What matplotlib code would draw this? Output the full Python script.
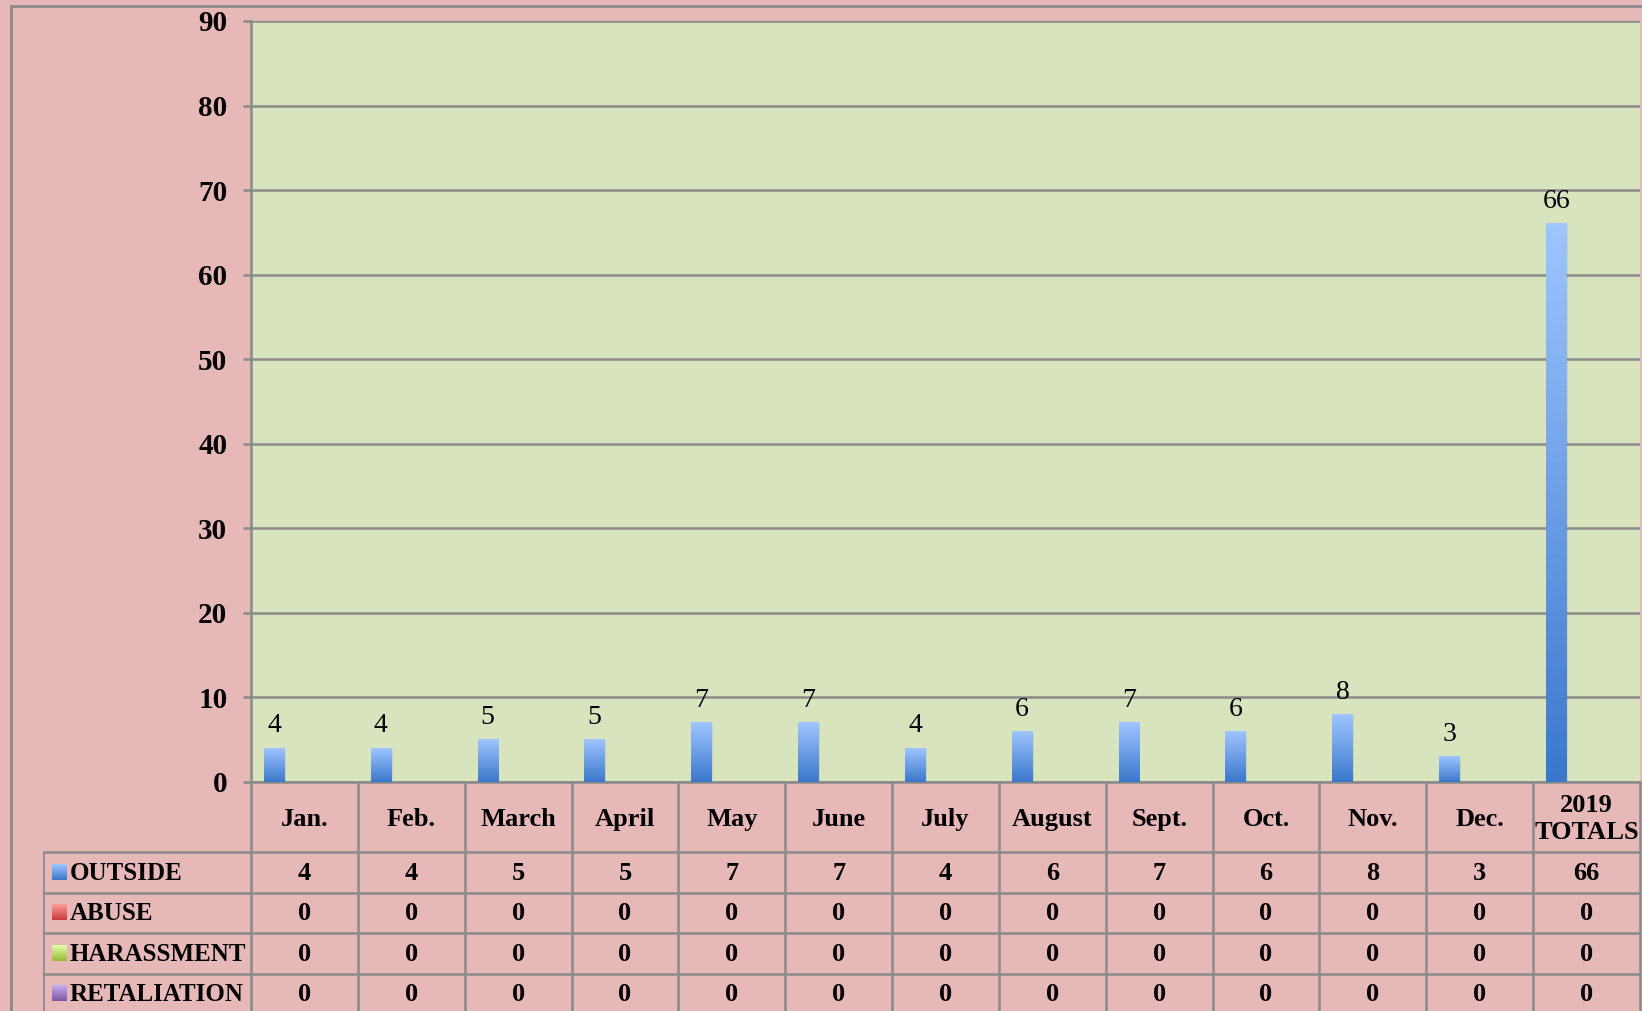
import matplotlib
matplotlib.use("Agg")
import matplotlib.pyplot as plt
import numpy as np
from matplotlib.colors import LinearSegmentedColormap
from matplotlib.patches import Rectangle

months = ['Jan.', 'Feb.', 'March', 'April', 'May', 'June', 'July',
          'August', 'Sept.', 'Oct.', 'Nov.', 'Dec.', '2019\nTOTALS']
series = ['OUTSIDE', 'ABUSE', 'HARASSMENT', 'RETALIATION']
outside = [4, 4, 5, 5, 7, 7, 4, 6, 7, 6, 8, 3, 66]
abuse = [0] * 13
harassment = [0] * 13
retaliation = [0] * 13
values = [outside, abuse, harassment, retaliation]

# light (top) -> dark (bottom) for each series
grads = [('#9ec5ff', '#3b78cc'), ('#ff9d9b', '#c93b39'),
         ('#e2ffa6', '#9aba3c'), ('#c9acec', '#7c58a6')]

pink = '#e6b8b7'
green = '#d7e4bd'
grey = '#8a8a8a'
font = 'Liberation Serif'

W, H = 1642, 1011
fig = plt.figure(figsize=(W / 100, H / 100), dpi=100, facecolor=pink)

# outer chart border
fig.patches.append(Rectangle((11 / W, -0.1), 1.2, 1 - 6 / H + 0.1,
                             transform=fig.transFigure, fill=False,
                             edgecolor=grey, lw=2, zorder=0))

px_l, px_r, px_t, px_b = 251, 1640, 21, 782
ax = fig.add_axes([px_l / W, 1 - px_b / H, (px_r - px_l) / W, (px_b - px_t) / H])
ax.set_facecolor(green)

x = np.arange(len(months))
width = 0.19
offsets = [-1.5 * width, -0.5 * width, 0.5 * width, 1.5 * width]

for vals, off, (c1, c2) in zip(values, offsets, grads):
    cmap = LinearSegmentedColormap.from_list('g', [c2, c1])
    rects = ax.bar(x + off, vals, width, color=c1, zorder=3)
    for r in rects:
        h = r.get_height()
        if h <= 0:
            continue
        x0 = r.get_x()
        # soft shadow
        ax.add_patch(Rectangle((x0 + 0.015, -0.35), r.get_width(), h + 0.3,
                               color='#000000', alpha=0.06, lw=0, zorder=2))
        grad = np.linspace(1, 0, 100).reshape(-1, 1)
        ax.imshow(grad, extent=[x0, x0 + r.get_width(), 0, h], aspect='auto',
                  cmap=cmap, origin='upper', zorder=4)

for xi, v in zip(x, outside):
    ax.annotate(str(v), xy=(xi + offsets[0], v), xytext=(0, 7),
                textcoords='offset points', ha='center', va='bottom',
                fontsize=20, family=font, zorder=5)

ax.set_xlim(-0.5, len(months) - 0.5)
ax.set_ylim(0, 90)
ax.set_yticks(range(0, 91, 10))
ax.yaxis.grid(True, color=grey, lw=1.8, zorder=1)
ax.set_axisbelow(True)
ax.set_xticks([])
ax.tick_params(axis='y', length=6, width=1.8, color=grey, pad=11)
for lab in ax.get_yticklabels():
    lab.set_fontfamily(font)
    lab.set_fontweight('bold')
    lab.set_fontsize(21)
for s in ['top', 'right']:
    ax.spines[s].set_visible(False)
for s in ['left', 'bottom']:
    ax.spines[s].set_color(grey)
    ax.spines[s].set_linewidth(1.8)

# data table under the axis
col_px = (px_r - px_l) / 13
tab_l = 43
tab = fig.add_axes([tab_l / W, 0, (W - tab_l) / W, 1 - px_b / H])
tab.set_facecolor('none')
tab.axis('off')
left_edge = -0.5 - (px_l - tab_l) / col_px
right_edge = -0.5 + (W - px_l) / col_px
row_px = 40.5
hdr = 70 / row_px

lk = dict(color=grey, lw=1.8, solid_capstyle='butt')
nrows = len(series)
bottom = hdr + nrows
# horizontal lines
for i in range(nrows + 1):
    y = hdr + i
    tab.plot([left_edge, 12.5], [y, y], **lk)
# vertical lines
for c in range(14):
    tab.plot([c - 0.5, c - 0.5], [0, bottom], **lk)
tab.plot([left_edge, left_edge], [hdr, bottom], **lk)

tk = dict(family=font, fontweight='bold', fontsize=19, ha='center', va='center')
for xi, m in zip(x, months):
    tab.text(xi, hdr / 2 + 0.05, m, linespacing=1.25, **tk)

sw = 15 / col_px
for i, (name, vals, (c1, c2)) in enumerate(zip(series, values, grads)):
    yc = hdr + i + 0.5
    cmap = LinearSegmentedColormap.from_list('g', [c2, c1])
    sx = left_edge + 9 / col_px
    grad = np.linspace(1, 0, 50).reshape(-1, 1)
    tab.imshow(grad, extent=[sx, sx + sw, yc + 0.19, yc - 0.19], aspect='auto',
               cmap=cmap, origin='upper')
    tab.text(sx + sw + 3 / col_px, yc + 0.02, name, family=font,
             fontweight='bold', fontsize=18, ha='left', va='center')
    for xi, v in zip(x, vals):
        tab.text(xi, yc + 0.02, str(v), **tk)
tab.set_xlim(left_edge, right_edge)
tab.set_ylim((H - px_b) / row_px, 0)

fig.savefig('out.png', dpi=100, facecolor=pink)
